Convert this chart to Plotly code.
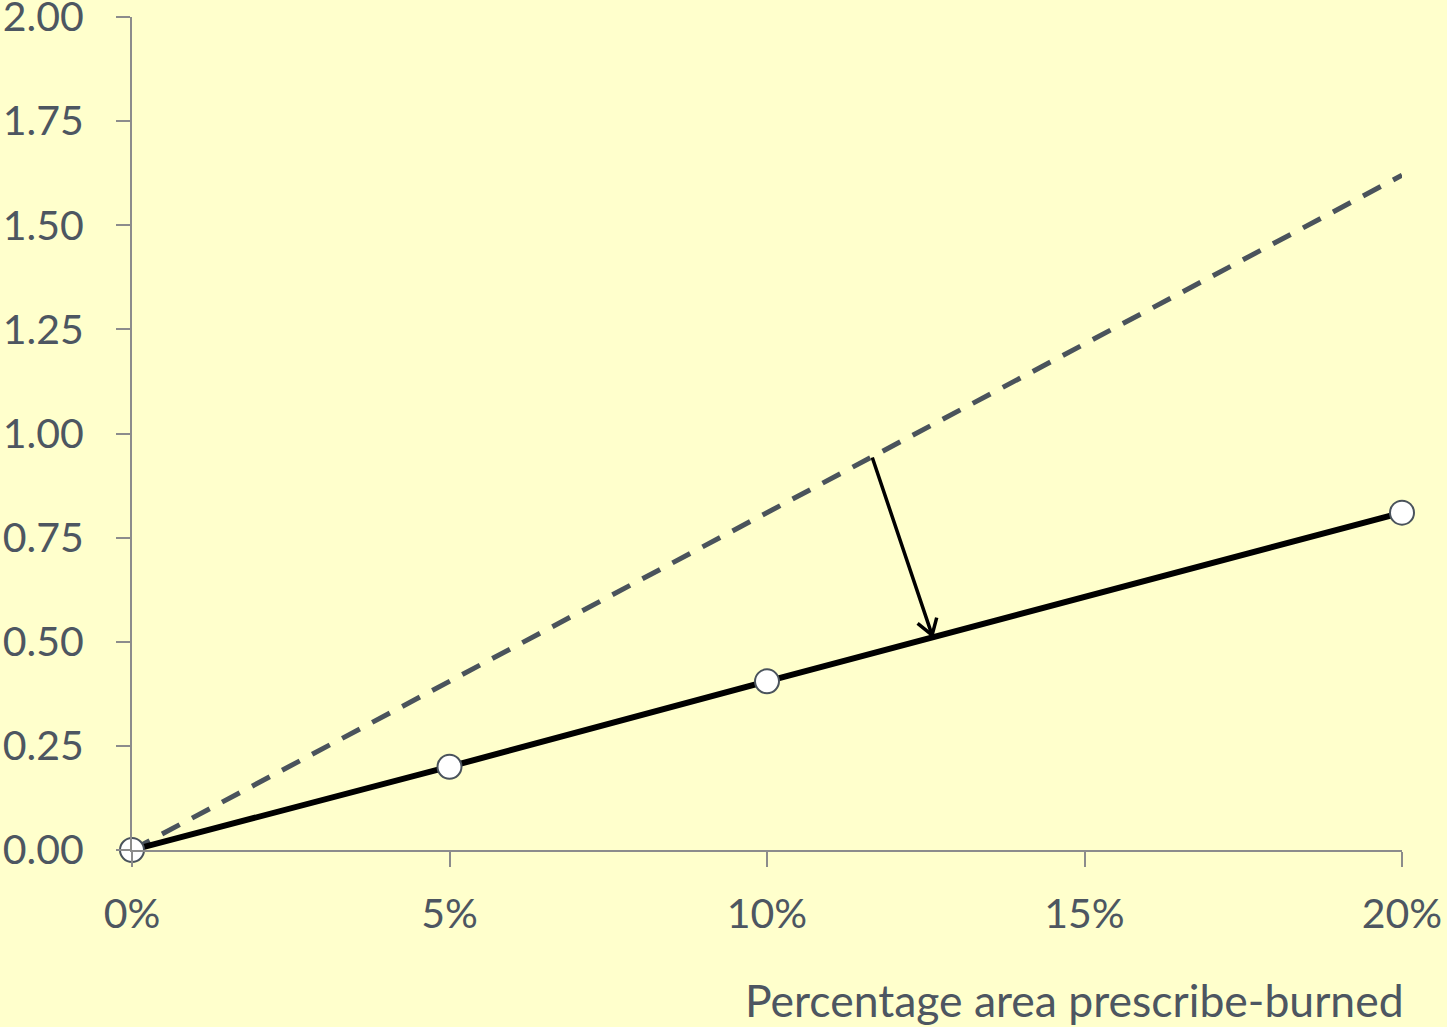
import plotly.graph_objects as go

# Data
pct_burned = [0, 5, 10, 20]
solid_values = [0.0, 0.2, 0.405, 0.81]
dashed_x = [0, 20]
dashed_values = [0.0, 1.62]
x_ticks = [0, 5, 10, 15, 20]
x_tick_labels = ["0%", "5%", "10%", "15%", "20%"]
y_ticks = [0, 0.25, 0.5, 0.75, 1.0, 1.25, 1.5, 1.75, 2.0]
y_tick_labels = ["0.00", "0.25", "0.50", "0.75", "1.00", "1.25", "1.50", "1.75", "2.00"]
arrow_tail = (11.65, 0.946)
arrow_head = (12.6, 0.516)

BG = "#FFFFCC"
TXT = "#4D5661"
AX = "#8C8C8C"
FONT = "Lato"

fig = go.Figure()
fig.add_trace(go.Scatter(x=dashed_x, y=dashed_values, mode="lines",
                         line=dict(color="#4A535C", width=5, dash="20px,14px"),
                         cliponaxis=False, hoverinfo="skip"))
fig.add_trace(go.Scatter(x=pct_burned, y=solid_values, mode="lines+markers",
                         line=dict(color="black", width=6),
                         marker=dict(size=24, color="white", line=dict(color="#4A535C", width=2)),
                         cliponaxis=False))

# Arrow shaft
fig.add_annotation(x=arrow_head[0], y=arrow_head[1], ax=arrow_tail[0], ay=arrow_tail[1],
                   axref="x", ayref="y", xref="x", yref="y", text="", showarrow=True,
                   arrowhead=0, arrowwidth=3.5, arrowcolor="black", standoff=0, startstandoff=0)
# Open V arrowhead barbs (pixel offsets relative to head)
for bx, by in [(-16, -13), (5, -19)]:
    fig.add_annotation(x=arrow_head[0], y=arrow_head[1], ax=bx, ay=by, xref="x", yref="y",
                       text="", showarrow=True, arrowhead=0, arrowwidth=3.5, arrowcolor="black",
                       standoff=0, startstandoff=0)

fig.add_annotation(text="Percentage area prescribe-burned", xref="paper", yref="paper",
                   x=1.003, y=-0.180, xanchor="right", yanchor="middle", showarrow=False,
                   font=dict(family=FONT, size=44.5, color=TXT))

fig.update_layout(
    width=1447, height=1027,
    paper_bgcolor=BG, plot_bgcolor=BG,
    margin=dict(l=132, r=45, t=17, b=177),
    showlegend=False,
    font=dict(family=FONT, size=40, color=TXT),
    xaxis=dict(range=[0, 20], tickvals=x_ticks, ticktext=x_tick_labels, automargin=False,
               showgrid=False, zeroline=False, showline=True, linecolor=AX, linewidth=2,
               ticks="outside", ticklen=15, tickwidth=2, tickcolor=AX,
               ticklabelstandoff=12, ticklabeloverflow="allow",
               tickfont=dict(family=FONT, size=41, color=TXT)),
    yaxis=dict(range=[0, 2], tickvals=y_ticks, ticktext=y_tick_labels, automargin=False,
               showgrid=False, zeroline=False, showline=True, linecolor=AX, linewidth=2,
               ticks="outside", ticklen=14, tickwidth=2, tickcolor=AX,
               ticklabelstandoff=24, ticklabeloverflow="allow",
               tickfont=dict(family=FONT, size=41, color=TXT)),
)

fig.write_html("out.html", config={"displayModeBar": False},
               post_script="document.body.style.margin='0';document.body.style.overflow='hidden';")
